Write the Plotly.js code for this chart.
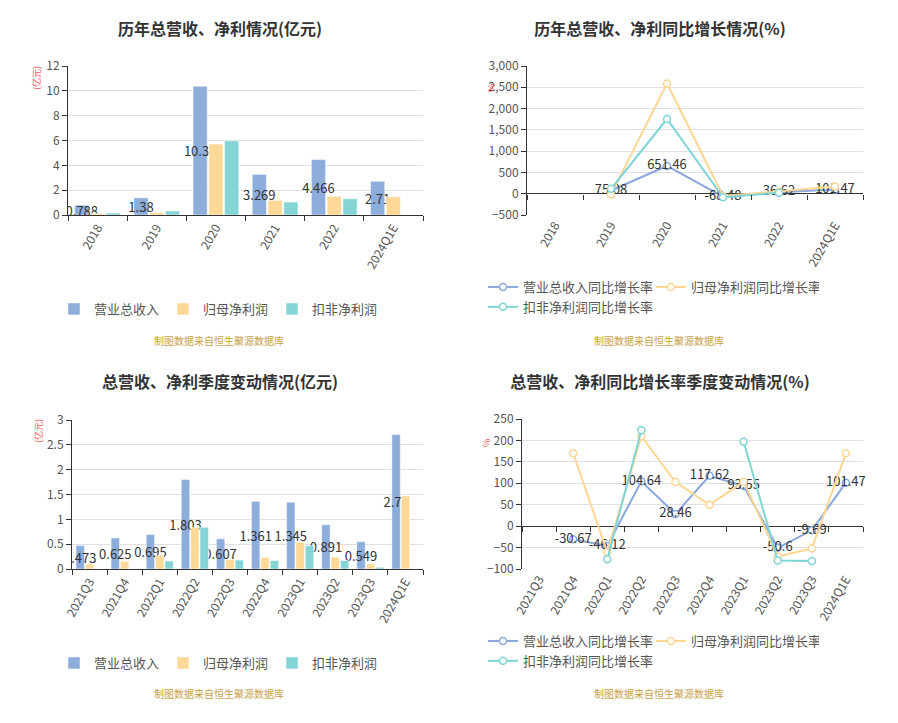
<!DOCTYPE html>
<html><head><meta charset="utf-8">
<script src="https://cdn.plot.ly/plotly-3.0.1.min.js"></script>
<style>
body{margin:0;background:#fff;}
.p{position:absolute;width:449px;height:361px;}
</style></head><body>
<div id="c1" class="p" style="left:0;top:0"></div>
<div id="c2" class="p" style="left:449px;top:0"></div>
<div id="c3" class="p" style="left:0;top:361px"></div>
<div id="c4" class="p" style="left:449px;top:361px"></div>
<script>
// ---- data ----
const years = ['2018','2019','2020','2021','2022','2024Q1E'];
const revenue = [0.788, 1.38, 10.37, 3.269, 4.466, 2.71];
const netProfit = [0.13, 0.19, 5.71, 1.18, 1.50, 1.47];
const deductedProfit = [0.16, 0.32, 5.97, 1.04, 1.31, null];

const revenueYoY = [null, 75.08, 651.46, -68.48, 36.62, 101.47];
const netProfitYoY = [null, -20, 2590, -55, 50, 172];
const deductedYoY = [null, 115, 1755, -85, 25, null];

const quarters = ['2021Q3','2021Q4','2022Q1','2022Q2','2022Q3','2022Q4','2023Q1','2023Q2','2023Q3','2024Q1E'];
const qRevenue = [0.473, 0.625, 0.695, 1.803, 0.607, 1.361, 1.345, 0.891, 0.549, 2.71];
const qNetProfit = [0.10, 0.155, 0.27, 0.84, 0.19, 0.23, 0.54, 0.24, 0.10, 1.47];
const qDeducted = [null, null, 0.16, 0.84, 0.18, 0.17, 0.47, 0.17, 0.035, null];

const qRevenueYoY = [null, -30.67, -46.12, 104.64, 28.46, 117.62, 93.55, -50.6, -9.69, 101.47];
const qNetProfitYoY = [null, 170, -61, 210, 103, 50, 104, -71, -52, 170];
const qDeductedYoY = [null, null, -77, 224, null, null, 197, -80, -81.5, null];

const barNames = ['营业总收入','归母净利润','扣非净利润'];
const lineNames = ['营业总收入同比增长率','归母净利润同比增长率','扣非净利润同比增长率'];
const titles = ['历年总营收、净利情况(亿元)','历年总营收、净利同比增长情况(%)','总营收、净利季度变动情况(亿元)','总营收、净利同比增长率季度变动情况(%)'];
const footer = '制图数据来自恒生聚源数据库';

// ---- style ----
const FONT = '"Noto Sans CJK SC", "Noto Sans", sans-serif';
const COLORS = ['#8DADDB','#FDD897','#85D4D6'];
const LINECOLORS = ['#8AA8DC','#FDD694','#7FD4D6'];
const W = 449, H = 361;

function px2paper(m, x, y){
  return {x:(x - m.l)/(W - m.l - m.r), y:(H - m.b - y)/(H - m.t - m.b)};
}

function baseLayout(m, title, titleX, titleY, yr, dtick, unit, unitPos, legendPos, footPos, fmt, entryW){
  const u = px2paper(m, unitPos[0], unitPos[1]);
  const f = px2paper(m, footPos[0], footPos[1]);
  const lg = px2paper(m, legendPos[0], legendPos[1]);
  return {
    width: W, height: H, margin: m, paper_bgcolor:'#fff', plot_bgcolor:'#fff',
    font:{family:FONT, size:12, color:'#555'},
    title:{text:title, x:titleX/W, xanchor:'center', y:1-titleY/H, yanchor:'middle', yref:'container',
      font:{family:FONT, size:16, color:'#333', weight:'bold'}},
    yaxis:{range:yr, dtick:dtick, showgrid:true, gridcolor:'#e0e0e0', gridwidth:1,
      showline:true, linecolor:'#333', linewidth:1, ticks:'outside', ticklen:5, tickcolor:'#333',
      tickfont:{family:FONT, size:12, color:'#555'}, zeroline:false, tickformat:fmt, fixedrange:true},
    showlegend:true,
    legend:{orientation:'h', x:lg.x, xanchor:'left', y:lg.y, yanchor:'top',
      entrywidth:entryW, entrywidthmode:'pixels',
      font:{family:FONT, size:13, color:'#555'}, bgcolor:'rgba(0,0,0,0)', traceorder:'normal'},
    annotations:[
      {text:unit, xref:'paper', yref:'paper', x:u.x, y:u.y, showarrow:false, textangle:-90,
        font:{family:FONT, size:9, color:'#ff5555'}, xanchor:'center', yanchor:'middle'},
      {text:footer, xref:'paper', yref:'paper', x:f.x, y:f.y, showarrow:false,
        font:{family:FONT, size:10, color:'#c9a049'}, xanchor:'center', yanchor:'middle'}
    ]
  };
}

function xAxisCat(cats, showTicks){
  return {type:'category', categoryarray:cats, range:[-0.5, cats.length-0.5],
    tickangle:-60, tickfont:{family:FONT, size:12, color:'#555'},
    showgrid:false, zeroline:false, fixedrange:true,
    showline:showTicks, linecolor:'#333', linewidth:1,
    ticks: showTicks ? 'outside' : '', tickson:'boundaries', ticklen:5, tickcolor:'#333'};
}

function barChart(id, cats, series, m, title, titleX, titleY, yr, dtick, unitPos, legendPos, footPos){
  const traces = series.map((s, i) => ({
    type:'bar', x:cats, y:s, name:barNames[i],
    marker:{color:COLORS[i], line:{color:'rgba(255,255,255,0.5)', width:1}},
    text: i === 0 ? s.map(v => v == null ? '' : String(v)) : undefined,
    textposition: i === 0 ? 'inside' : 'none',
    insidetextanchor:'middle', constraintext:'none', textangle:0,
    insidetextfont:{family:FONT, size:13, color:'#333'},
    hoverinfo:'skip'
  }));
  const layout = baseLayout(m, title, titleX, titleY, yr, dtick, '(亿元)', unitPos, legendPos, footPos, '', 64);
  layout.barmode = 'group';
  layout.bargap = 0.2;
  layout.bargroupgap = 0.1;
  layout.xaxis = xAxisCat(cats, true);
  Plotly.newPlot(id, traces, layout, {staticPlot:true, displayModeBar:false});
}

function lineChart(id, cats, series, m, title, titleX, titleY, yr, dtick, unitPos, legendPos, footPos, fmt){
  const traces = series.map((s, i) => ({
    type:'scatter', x:cats, y:s, name:lineNames[i],
    mode: i === 0 ? 'lines+markers+text' : 'lines+markers',
    line:{color:LINECOLORS[i], width:2},
    marker:{symbol:'circle', size:7, color:'#fff', line:{color:LINECOLORS[i], width:1.5}},
    text: i === 0 ? s.map(v => v == null ? '' : String(v)) : undefined,
    textposition:'middle center',
    textfont:{family:FONT, size:13, color:'#333'},
    cliponaxis:false, hoverinfo:'skip'
  }));
  // axis carrying the tick marks on the zero line
  traces.push({type:'scatter', x:cats, y:cats.map(() => null), xaxis:'x2', showlegend:false, hoverinfo:'skip', mode:'lines'});
  const layout = baseLayout(m, title, titleX, titleY, yr, dtick, '%', unitPos, legendPos, footPos, fmt, 123);
  layout.xaxis = xAxisCat(cats, false);
  layout.yaxis.zeroline = true;
  layout.yaxis.zerolinecolor = '#333';
  layout.yaxis.zerolinewidth = 1;
  const x2 = xAxisCat(cats, true);
  x2.showline = false;
  x2.showticklabels = false;
  x2.overlaying = 'x';
  x2.anchor = 'free';
  x2.position = (0 - yr[0]) / (yr[1] - yr[0]);
  layout.xaxis2 = x2;
  Plotly.newPlot(id, traces, layout, {staticPlot:true, displayModeBar:false});
}

barChart('c1', years, [revenue, netProfit, deductedProfit],
  {l:68, r:26, t:66, b:146, pad:0}, titles[0], 220, 29, [0, 12], 2,
  [36, 78], [54, 294], [219, 340]);

lineChart('c2', years, [revenueYoY, netProfitYoY, deductedYoY],
  {l:78, r:35, t:66, b:146, pad:0}, titles[1], 211, 29, [-500, 3000], 500,
  [42, 88], [34, 272], [210, 340], ',d');

barChart('c3', quarters, [qRevenue, qNetProfit, qDeducted],
  {l:72, r:26, t:59, b:153, pad:0}, titles[2], 220, 21, [0, 3], 0.5,
  [38, 70], [54, 287], [219, 332]);

lineChart('c4', quarters, [qRevenueYoY, qNetProfitYoY, qDeductedYoY],
  {l:73, r:35, t:58, b:153, pad:0}, titles[3], 211, 21, [-100, 250], 50,
  [37, 82], [34, 265], [210, 332], '');
</script>
</body></html>
